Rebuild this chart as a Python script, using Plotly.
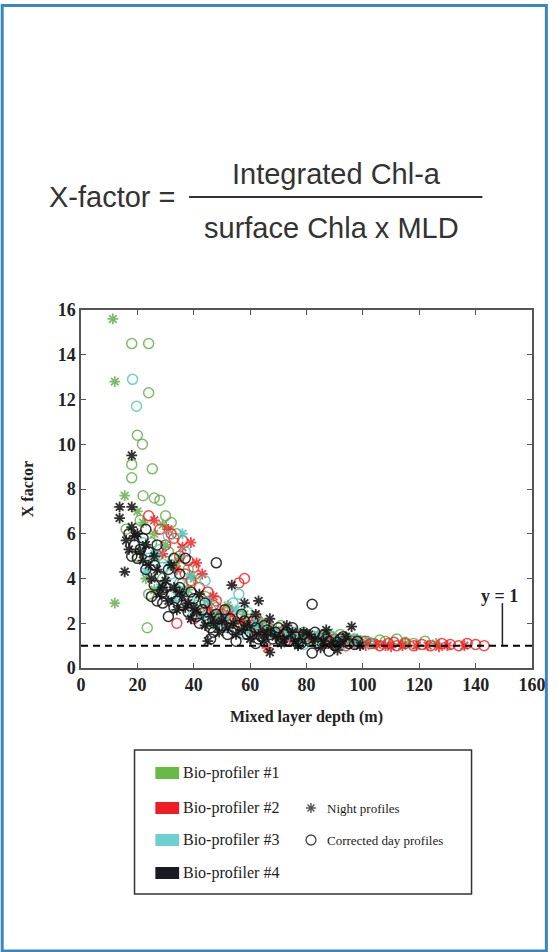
import plotly.graph_objects as go

# ---------------- data ----------------
green_day_x = [18, 24, 24, 25.3, 22, 26, 20, 21.8, 18, 18, 23.5, 28, 30, 32, 34, 27, 29, 24, 36, 42, 45, 50, 55, 60, 68, 75, 85, 92, 97, 100, 104, 108, 112, 118, 122, 16, 20,
               21, 25, 31, 33, 38, 44, 48, 57, 63, 71, 79, 88, 94, 106, 115]
green_day_y = [14.5, 14.5, 12.3, 8.9, 7.7, 7.6, 10.4, 10.0, 8.5, 9.1, 1.8, 7.5, 6.8, 6.5, 6.0, 5.0, 4.0, 3.3, 3.8, 3.0, 2.5, 2.2, 2.0, 1.8, 1.6, 1.4, 1.3, 1.5, 1.3, 1.2, 1.1, 1.2, 1.3, 1.1, 1.2, 6.2, 5.0,
               6.6, 5.6, 5.2, 4.6, 4.4, 3.2, 2.7, 2.3, 2.1, 1.9, 1.6, 1.45, 1.35, 1.25, 1.15]
green_night_x = [11.3, 12, 12, 15.5, 20, 22, 26, 30, 33, 38, 40, 46, 52, 58, 64, 72, 80, 88, 95, 102, 115, 126, 26, 23,
                 29, 35, 49, 67, 84, 98]
green_night_y = [15.6, 12.8, 2.9, 7.7, 7.0, 6.5, 6.0, 5.5, 4.5, 3.5, 4.0, 2.0, 2.8, 2.4, 2.0, 1.7, 1.5, 1.6, 1.3, 1.2, 1.1, 1.1, 3.5, 4.0,
                 6.4, 4.9, 2.4, 1.8, 1.35, 1.3]

red_day_x = [24, 28, 30, 33, 35, 38, 40, 37, 42, 45, 48, 44, 52, 56, 58, 62, 66, 70, 76, 84, 90, 96, 99, 103, 106, 109, 112, 115, 118, 121, 124, 131, 134, 137, 140, 143, 34, 40,
             32, 36, 39, 47, 50, 54, 60, 73, 79, 87, 94, 101, 111, 128]
red_day_y = [6.8, 6.2, 5.5, 5.8, 5.0, 4.8, 4.5, 4.2, 3.6, 3.4, 3.0, 2.5, 2.6, 3.8, 4.0, 2.3, 1.9, 1.6, 1.5, 1.4, 1.3, 1.2, 1.1, 1.1, 1.0, 1.1, 1.0, 1.1, 1.0, 1.05, 1.0, 1.05, 1.0, 1.1, 1.05, 1.0, 2.0, 2.2,
             6.0, 5.7, 3.9, 2.8, 2.4, 2.1, 1.9, 1.25, 1.35, 1.1, 1.0, 1.2, 1.15, 1.1]
red_night_x = [26, 31, 36, 39, 41, 43, 47, 53, 57, 61, 65, 74, 82, 93, 101, 105, 110, 114, 119, 127, 130, 136, 66,
               29, 34, 45, 50, 70, 88, 97, 108, 123]
red_night_y = [6.6, 6.2, 5.4, 5.6, 4.7, 4.2, 3.2, 2.4, 2.1, 1.7, 1.5, 1.3, 1.2, 1.15, 1.0, 1.05, 0.95, 1.0, 1.0, 0.95, 1.0, 1.0, 0.9,
               5.1, 4.4, 2.7, 2.0, 1.45, 1.15, 1.05, 1.0, 1.0]

cyan_day_x = [18.3, 19.7, 26, 29, 32, 35, 38, 41, 46, 50, 54, 56, 59, 63, 67, 71, 76, 81, 86, 89, 93, 97, 102, 37, 44, 31, 22,
              24, 28, 34, 40, 47, 52, 58, 65, 73, 79, 85]
cyan_day_y = [12.9, 11.7, 4.8, 4.5, 4.2, 3.8, 3.2, 2.8, 2.6, 2.1, 2.9, 3.3, 2.5, 2.0, 1.7, 1.5, 1.6, 1.3, 1.2, 1.4, 1.1, 1.25, 1.15, 5.2, 3.9, 5.9, 5.6,
              4.9, 5.3, 3.5, 2.4, 2.2, 1.8, 1.5, 1.3, 1.2, 1.05, 1.1]
cyan_night_x = [23, 28, 33, 39, 43, 48, 55, 62, 69, 78, 84, 91, 98, 36,
                26, 31, 45, 51, 59, 74]
cyan_night_y = [4.3, 3.6, 3.0, 4.1, 2.3, 1.9, 2.6, 1.9, 1.6, 1.3, 1.5, 1.25, 1.1, 6.0,
                5.1, 4.7, 3.0, 2.3, 1.7, 1.45]

black_day_x = [48, 82, 82, 17, 19, 20, 22, 24, 26, 25, 27, 29, 28, 30, 32, 33, 35, 36, 37, 38, 40, 42, 43, 45, 46, 48, 50, 51, 53, 54, 56, 58, 60, 62, 64, 66, 68, 70, 72, 74, 76, 78, 80, 84, 86, 88, 90, 92, 95, 98, 88, 46, 55, 62, 34, 31, 23, 27,
               18, 21, 23, 26, 29, 31, 33, 35, 39, 41, 44, 47, 49, 52, 57, 59, 61, 63, 65, 67, 69, 71, 73, 75, 77, 79, 81, 83, 87, 91, 93, 97]
black_day_y = [4.7, 2.85, 0.67, 6.0, 5.5, 4.9, 5.8, 5.2, 4.6, 3.2, 3.0, 2.9, 4.1, 3.6, 3.3, 4.9, 4.2, 2.8, 4.9, 2.5, 3.1, 2.0, 2.6, 2.2, 1.8, 2.4, 1.9, 2.6, 2.2, 1.7, 1.9, 2.1, 1.6, 1.8, 1.4, 1.7, 1.3, 1.8, 1.5, 1.2, 1.4, 1.1, 1.3, 1.1, 1.45, 1.2, 1.0, 1.3, 1.1, 1.2, 0.75, 1.3, 1.2, 1.1, 3.0, 2.3, 6.2, 5.5,
               5.0, 5.3, 4.4, 3.7, 3.4, 4.4, 2.7, 3.6, 3.4, 2.3, 2.9, 1.6, 2.2, 1.5, 2.4, 1.5, 2.1, 1.3, 1.9, 1.5, 1.6, 1.2, 1.6, 1.8, 1.1, 1.5, 1.2, 1.6, 1.3, 1.15, 1.4, 1.05]
black_night_x = [18, 13.7, 18, 13.7, 15.5, 53.5, 63, 16, 18, 20, 21, 23, 24, 25, 27, 28, 30, 31, 33, 34, 36, 38, 39, 41, 44, 45, 47, 49, 52, 55, 57, 60, 63, 65, 67, 69, 71, 73, 75, 77, 79, 83, 85, 87, 89, 91, 94, 96, 99, 67, 58,
                 17, 19, 22, 26, 29, 32, 35, 37, 40, 42, 46, 50, 54, 59, 62, 66, 72, 76, 81, 86, 92]
black_night_y = [9.5, 7.2, 7.2, 6.7, 4.3, 3.7, 3.0, 5.7, 6.3, 6.0, 5.2, 5.5, 4.6, 4.0, 4.4, 3.3, 3.9, 3.0, 3.6, 2.6, 3.2, 2.9, 2.2, 2.5, 1.9, 1.2, 2.0, 1.6, 1.8, 1.5, 1.7, 1.3, 1.5, 1.2, 0.7, 1.4, 1.1, 1.9, 1.6, 1.0, 1.6, 1.3, 0.9, 1.7, 1.05, 0.8, 1.4, 1.85, 1.0, 2.2, 2.9,
                 5.3, 5.9, 4.8, 5.0, 3.6, 4.6, 3.4, 2.7, 2.7, 3.3, 2.3, 2.1, 2.0, 1.9, 2.4, 1.6, 1.3, 1.2, 1.5, 1.2, 1.1]

x_ticks = [0, 20, 40, 60, 80, 100, 120, 140, 160]
y_ticks = [0, 2, 4, 6, 8, 10, 12, 14, 16]
ref_line_y = 1
series_names = ["Bio-profiler #1", "Bio-profiler #2", "Bio-profiler #3", "Bio-profiler #4"]

# ---------------- styling ----------------
W, H = 558, 952
L, R, T, B = 81, 22, 310, 284
PW, PH = W - L - R, H - T - B

def px(x):
    return (x - L) / PW

def py(y):
    return (H - B - y) / PH

marker_cols = ["rgba(95,170,70,0.8)", "rgba(240,40,40,0.85)", "rgba(80,200,190,0.85)", "rgba(20,20,20,0.88)"]
swatch_cols = ["#66bb44", "#ee1c24", "#6ccfd0", "#1a1a22"]

fig = go.Figure()
groups = [
    (green_day_x, green_day_y, green_night_x, green_night_y),
    (red_day_x, red_day_y, red_night_x, red_night_y),
    (cyan_day_x, cyan_day_y, cyan_night_x, cyan_night_y),
    (black_day_x, black_day_y, black_night_x, black_night_y),
]
for i, (dx, dy, nx, ny) in enumerate(groups):
    fig.add_trace(go.Scatter(x=dx, y=dy, mode="markers", name=series_names[i] + " day",
                             marker=dict(symbol="circle-open", size=10, color=marker_cols[i],
                                         line=dict(width=1.5, color=marker_cols[i])),
                             showlegend=False, hoverinfo="skip"))
    fig.add_trace(go.Scatter(x=nx, y=ny, mode="markers", name=series_names[i] + " night",
                             marker=dict(symbol="asterisk-open", size=9, color=marker_cols[i],
                                         line=dict(width=1.8, color=marker_cols[i])),
                             showlegend=False, hoverinfo="skip"))

# dashed y = 1 line
fig.add_trace(go.Scatter(x=[x_ticks[0], x_ticks[-1]], y=[ref_line_y, ref_line_y], mode="lines",
                         line=dict(color="black", width=2, dash="7px,5px"),
                         showlegend=False, hoverinfo="skip"))

axis_common = dict(showline=True, linecolor="#555", linewidth=1.5, mirror="ticks",
                   ticks="inside", ticklen=5, tickcolor="#555", showgrid=False, zeroline=False,
                   tickfont=dict(family="Liberation Serif", size=18, color="#222", weight="bold"))
fig.update_xaxes(range=[0, 160], tickvals=x_ticks, **axis_common,
                 title=dict(text="<b>Mixed layer depth (m)</b>", font=dict(family="Liberation Serif", size=16, color="#222"), standoff=16))
fig.update_yaxes(range=[0, 16], tickvals=y_ticks, **axis_common,
                 title=dict(text="<b>X factor</b>", font=dict(family="Liberation Serif", size=16, color="#222"), standoff=20))

shapes = []
ann = []
# outer blue border
shapes.append(dict(type="rect", xref="paper", yref="paper", x0=px(1.5), x1=px(550.5), y0=py(951), y1=py(5.5),
                   line=dict(color="#3a86c0", width=3), layer="below"))
# formula
ann.append(dict(text="X-factor =", x=px(113), y=py(197), xref="paper", yref="paper", showarrow=False,
                font=dict(family="Liberation Sans", size=29, color="#333"), xanchor="center", yanchor="middle"))
ann.append(dict(text="Integrated Chl-a", x=px(339), y=py(174), xref="paper", yref="paper", showarrow=False,
                font=dict(family="Liberation Sans", size=29, color="#333"), xanchor="center", yanchor="middle"))
ann.append(dict(text="surface Chla x MLD", x=px(334), y=py(228), xref="paper", yref="paper", showarrow=False,
                font=dict(family="Liberation Sans", size=29, color="#333"), xanchor="center", yanchor="middle"))
shapes.append(dict(type="line", xref="paper", yref="paper", x0=px(190), x1=px(486), y0=py(197), y1=py(197),
                   line=dict(color="#333", width=2)))
# y = 1 marker
ann.append(dict(text="<b>y = 1</b>", x=px(503), y=py(596), xref="paper", yref="paper", showarrow=False,
                font=dict(family="Liberation Serif", size=18, color="#222"), xanchor="center", yanchor="middle"))
shapes.append(dict(type="line", xref="x", yref="y", x0=149.5, x1=149.5, y0=ref_line_y, y1=2.9,
                   line=dict(color="#222", width=1.5)))
# legend box
shapes.append(dict(type="rect", xref="paper", yref="paper", x0=px(135), x1=px(475), y0=py(894), y1=py(750),
                   line=dict(color="#333", width=1.5), fillcolor="white"))
rows = [773, 808, 840, 873]
for i, yy in enumerate(rows):
    shapes.append(dict(type="rect", xref="paper", yref="paper", x0=px(156), x1=px(180), y0=py(yy + 6), y1=py(yy - 6),
                       line=dict(width=0), fillcolor=swatch_cols[i]))
    ann.append(dict(text=series_names[i], x=px(182), y=py(yy), xref="paper", yref="paper", showarrow=False,
                    font=dict(family="Liberation Serif", size=16, color="#222"), xanchor="left", yanchor="middle"))
# night / day keys
cx, cy, r = 313, 808, 5
star_path = (f"M {px(cx - r)} {py(cy)} L {px(cx + r)} {py(cy)} "
             f"M {px(cx)} {py(cy - r)} L {px(cx)} {py(cy + r)} "
             f"M {px(cx - 3.5)} {py(cy - 3.5)} L {px(cx + 3.5)} {py(cy + 3.5)} "
             f"M {px(cx - 3.5)} {py(cy + 3.5)} L {px(cx + 3.5)} {py(cy - 3.5)}")
shapes.append(dict(type="path", xref="paper", yref="paper", path=star_path, line=dict(color="#555", width=1.4)))
ann.append(dict(text="Night profiles", x=px(327), y=py(cy), xref="paper", yref="paper", showarrow=False,
                font=dict(family="Liberation Serif", size=13, color="#222"), xanchor="left", yanchor="middle"))
cy2 = 840
shapes.append(dict(type="circle", xref="paper", yref="paper", x0=px(cx - 5), x1=px(cx + 5), y0=py(cy2 + 5), y1=py(cy2 - 5),
                   line=dict(color="#444", width=1.3)))
ann.append(dict(text="Corrected day profiles", x=px(327), y=py(cy2), xref="paper", yref="paper", showarrow=False,
                font=dict(family="Liberation Serif", size=13, color="#222"), xanchor="left", yanchor="middle"))

fig.update_layout(width=W, height=H, margin=dict(l=L, r=R, t=T, b=B),
                  paper_bgcolor="white", plot_bgcolor="white",
                  shapes=shapes, annotations=ann, showlegend=False)

fig.write_html("out.html")
